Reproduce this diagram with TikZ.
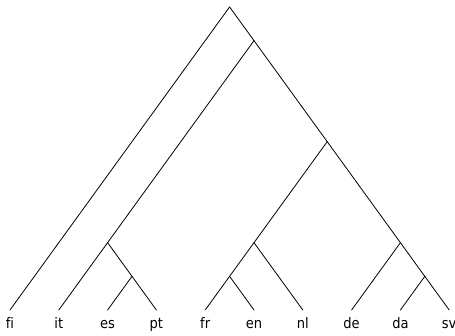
\documentclass[tikz,border=0pt]{standalone}
\usepackage{fontspec}
\setmainfont[Ligatures=NoCommon]{DejaVu Sans Condensed}
\begin{document}
\begin{tikzpicture}[
        x=1pt, y=-1pt,
        line join=round,
        line cap=round,
        edge/.style={line width=0.8pt},
        leaf/.style={font=\fontsize{14.5}{16}\selectfont, inner sep=0pt, anchor=base}
    ]
    \useasboundingbox (0,0) rectangle (455,335);
    % leaf spacing, base line and slope of the branches
    \def\lx{10}
    \def\dx{48.8}
    \def\ly{310}
    \def\k{1.38}
    % inner node spanning leaves #2..#3
    \newcommand\branch[3]{%
        \coordinate (#1) at ({\lx+\dx*(#2+#3)/2}, {\ly-\k*\dx*(#3-#2)/2});}

    % leaves
    \foreach \name [count=\i from 0] in {fi,it,es,pt,fr,en,nl,de,da,sv} {
        \coordinate (\name) at ({\lx+\dx*\i}, \ly);
        \node[leaf] (\name-lbl) at ([yshift=-18pt]\name) {\name};
    }

    % inner nodes
    \branch{root}{0}{9}
    \branch{itsv}{1}{9}
    \branch{itpt}{1}{3}
    \branch{espt}{2}{3}
    \branch{frsv}{4}{9}
    \branch{frnl}{4}{6}
    \branch{fren}{4}{5}
    \branch{desv}{7}{9}
    \branch{dasv}{8}{9}

    % branches
    \foreach \a/\b in {root/fi, root/itsv, itsv/itpt, itsv/frsv,
                       itpt/it, itpt/espt, espt/es, espt/pt,
                       frsv/frnl, frsv/desv, frnl/fren, frnl/nl,
                       fren/fr, fren/en, desv/de, desv/dasv,
                       dasv/da, dasv/sv}
        \draw[edge] (\a) -- (\b);
\end{tikzpicture}
\end{document}
